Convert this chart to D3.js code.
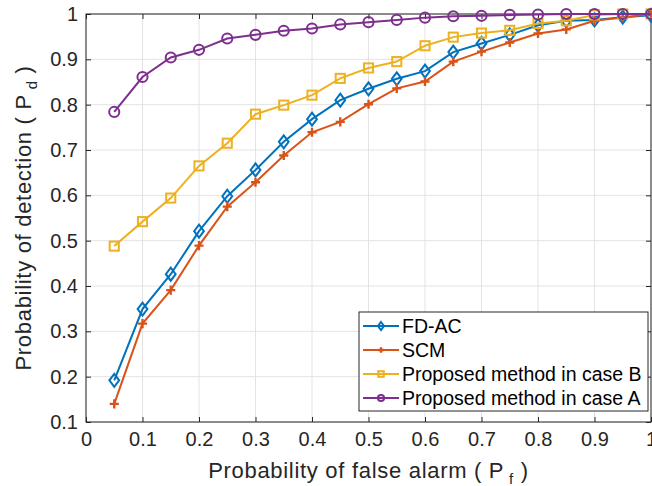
<!DOCTYPE html>
<html>
<head>
<meta charset="utf-8">
<script src="https://cdn.jsdelivr.net/npm/d3@7"></script>
<style>
  body { margin: 0; background: #fff; }
  svg { font-family: "Liberation Sans", Arial, sans-serif; }
</style>
</head>
<body>
<div class="chart"></div>
<script>
// false alarm probabilities
let pf = [0.05, 0.1, 0.15, 0.2, 0.25, 0.3, 0.35, 0.4, 0.45, 0.5,
          0.55, 0.6, 0.65, 0.7, 0.75, 0.8, 0.85, 0.9, 0.95, 1.0]

let fdac = [0.192, 0.349, 0.426, 0.521, 0.598, 0.656, 0.718, 0.768, 0.810, 0.835,
            0.857, 0.874, 0.916, 0.935, 0.954, 0.975, 0.985, 0.987, 0.993, 0.997]
let scm = [0.140, 0.317, 0.391, 0.489, 0.575, 0.629, 0.688, 0.739, 0.762, 0.801,
           0.836, 0.851, 0.895, 0.917, 0.937, 0.957, 0.966, 0.985, 0.992, 1.0]
let case_b = [0.488, 0.542, 0.594, 0.665, 0.715, 0.779, 0.799, 0.821, 0.858, 0.881,
              0.895, 0.930, 0.949, 0.958, 0.964, 0.979, 0.985, 0.998, 1.0, 1.0]
let case_a = [0.784, 0.861, 0.904, 0.921, 0.946, 0.954, 0.963, 0.968, 0.977, 0.982,
              0.987, 0.992, 0.995, 0.996, 0.998, 0.999, 1.0, 1.0, 1.0, 1.0]

let x_ticks = [0, 0.1, 0.2, 0.3, 0.4, 0.5, 0.6, 0.7, 0.8, 0.9, 1]
let y_ticks = [0.1, 0.2, 0.3, 0.4, 0.5, 0.6, 0.7, 0.8, 0.9, 1]

let series = [
    {name: "FD-AC", values: fdac, color: "#0072BD", marker: "diamond"},
    {name: "SCM", values: scm, color: "#D95319", marker: "plus"},
    {name: "Proposed method in case B", values: case_b, color: "#EDB120", marker: "square"},
    {name: "Proposed method in case A", values: case_a, color: "#7E2F8E", marker: "circle"}
]

let margin = {top: 14, right: 1, bottom: 64, left: 86}
let width = 652 - margin.left - margin.right
let height = 486 - margin.top - margin.bottom
let axis_color = "#262626"

let svg = d3.select(".chart")
    .append("svg")
        .attr("width", 652)
        .attr("height", 486)
    .append("g")
        .attr("transform", "translate(" + margin.left + "," + margin.top + ")")

let x = d3.scaleLinear().domain([0, 1]).range([0, width])
let y = d3.scaleLinear().domain([0.1, 1]).range([height, 0])

// grid
svg.append("g")
    .selectAll("line")
    .data(x_ticks)
    .enter()
    .append("line")
        .attr("x1", d => x(d)).attr("x2", d => x(d))
        .attr("y1", 0).attr("y2", height)
        .attr("stroke", "#e3e3e3")
svg.append("g")
    .selectAll("line")
    .data(y_ticks)
    .enter()
    .append("line")
        .attr("x1", 0).attr("x2", width)
        .attr("y1", d => y(d)).attr("y2", d => y(d))
        .attr("stroke", "#e3e3e3")

// axes, ticks pointing inward like matlab
function style_axis(g){
    g.select(".domain").remove()
    g.selectAll(".tick line").attr("stroke", axis_color)
    g.selectAll(".tick text")
        .attr("fill", axis_color)
        .style("font-size", "20px")
        .style("font-family", "'Liberation Sans', Arial, sans-serif")
}

svg.append("g")
    .attr("transform", "translate(0," + height + ")")
    .call(d3.axisBottom(x).tickValues(x_ticks).tickFormat(d3.format("~g")).tickSizeInner(-5).tickPadding(10))
    .call(style_axis)
svg.append("g")
    .call(d3.axisTop(x).tickValues(x_ticks).tickFormat("").tickSizeInner(-5))
    .call(style_axis)
svg.append("g")
    .call(d3.axisLeft(y).tickValues(y_ticks).tickFormat(d3.format("~g")).tickSizeInner(-5).tickPadding(8))
    .call(style_axis)
svg.append("g")
    .attr("transform", "translate(" + width + ",0)")
    .call(d3.axisRight(y).tickValues(y_ticks).tickFormat("").tickSizeInner(-5))
    .call(style_axis)

svg.append("rect")
    .attr("width", width)
    .attr("height", height)
    .attr("fill", "none")
    .attr("stroke", axis_color)
    .attr("stroke-width", 1)

// markers, s = half height of the marker
function draw_marker(g, type, color, s){
    if(type == "diamond"){
        g.append("path")
            .attr("d", "M0," + (-s) + "L" + (s*0.75) + ",0L0," + s + "L" + (-s*0.75) + ",0Z")
            .attr("fill", "none").attr("stroke", color).attr("stroke-width", 2)
    } else if(type == "plus"){
        s = s * 0.7
        g.append("path")
            .attr("d", "M" + (-s) + ",0H" + s + "M0," + (-s) + "V" + s)
            .attr("stroke", color).attr("stroke-width", 2.4)
    } else if(type == "square"){
        g.append("rect")
            .attr("x", -s*0.7).attr("y", -s*0.7)
            .attr("width", s*1.4).attr("height", s*1.4)
            .attr("fill", "none").attr("stroke", color).attr("stroke-width", 2)
    } else {
        g.append("circle")
            .attr("r", s*0.78)
            .attr("fill", "none").attr("stroke", color).attr("stroke-width", 2)
    }
}

let line = d3.line()
    .x(d => x(d[0]))
    .y(d => y(d[1]))

for(let s of series){
    let data = pf.map((p, i) => [p, s.values[i]])
    svg.append("path")
        .datum(data)
        .attr("fill", "none")
        .attr("stroke", s.color)
        .attr("stroke-width", 2)
        .attr("d", line)

    svg.append("g")
        .selectAll("g")
        .data(data)
        .enter()
        .append("g")
            .attr("transform", d => "translate(" + x(d[0]) + "," + y(d[1]) + ")")
            .each(function(){ draw_marker(d3.select(this), s.marker, s.color, 6.5) })
}

// legend
let legend = svg.append("g")
    .attr("transform", "translate(" + (359 - margin.left) + "," + (312 - margin.top) + ")")
legend.append("rect")
    .attr("width", 289)
    .attr("height", 99)
    .attr("fill", "#fff")
    .attr("stroke", axis_color)

for(let [i, s] of series.entries()){
    let row = legend.append("g")
        .attr("transform", "translate(0," + (14 + i * 24) + ")")
    row.append("line")
        .attr("x1", 4).attr("x2", 40)
        .attr("stroke", s.color).attr("stroke-width", 2)
    draw_marker(row.append("g").attr("transform", "translate(22,0)"), s.marker, s.color, 4)
    row.append("text")
        .attr("x", 43)
        .attr("y", 7)
        .attr("fill", "#000")
        .style("font-size", "19.5px")
        .text(s.name)
}

// axis labels
let xlab = svg.append("text")
    .attr("x", width / 2)
    .attr("y", 478 - margin.top)
    .attr("text-anchor", "middle")
    .attr("fill", axis_color)
    .style("font-size", "22px")
    .style("letter-spacing", "0.7px")
xlab.append("tspan").text("Probability of false alarm ( P")
xlab.append("tspan").attr("dy", 6).style("font-size", "15px").text("  f")
xlab.append("tspan").attr("dy", -6).text("  )")

let ylab = svg.append("text")
    .attr("transform", "translate(" + (31 - margin.left) + "," + (height / 2) + ") rotate(-90)")
    .attr("text-anchor", "middle")
    .attr("fill", axis_color)
    .style("font-size", "22px")
    .style("letter-spacing", "0.7px")
ylab.append("tspan").text("Probability of detection ( P")
ylab.append("tspan").attr("dy", 6).style("font-size", "15px").text("  d")
ylab.append("tspan").attr("dy", -6).text("  )")
</script>
</body>
</html>
